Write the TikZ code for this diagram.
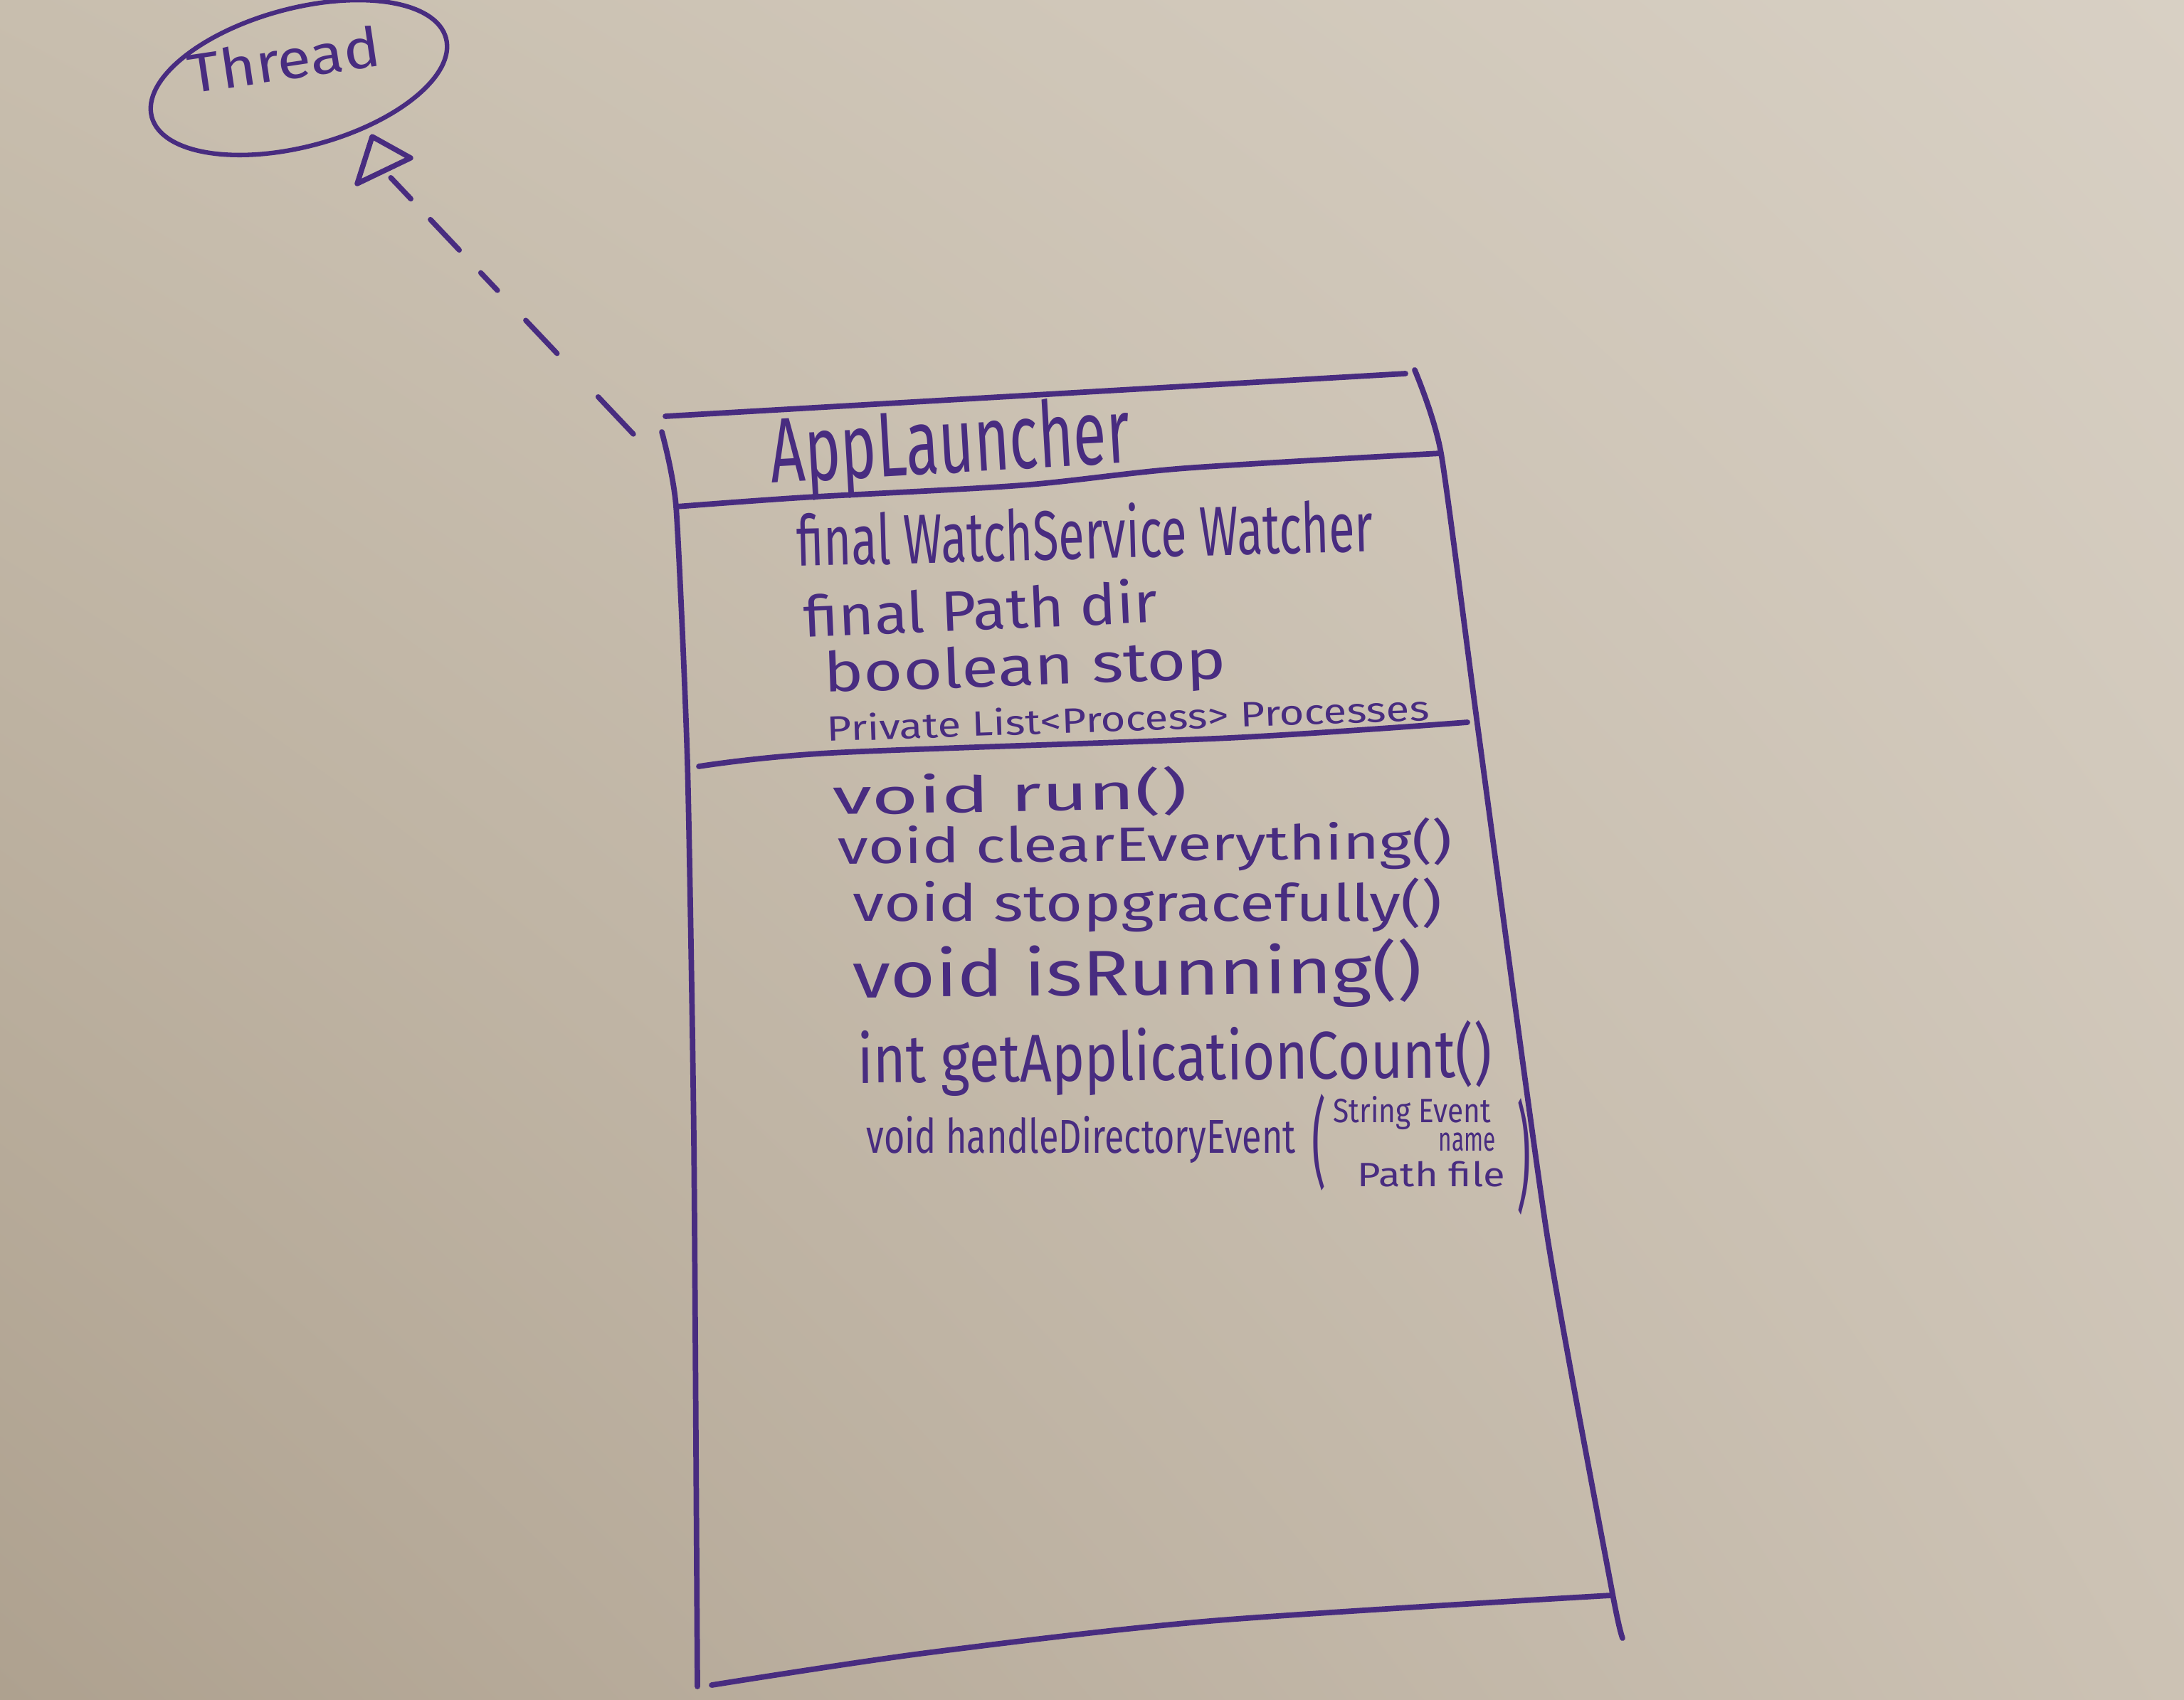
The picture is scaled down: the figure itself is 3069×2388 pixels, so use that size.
\documentclass[tikz,border=0pt]{standalone}
\usepackage{fontspec}
\setmainfont{Fira Sans}
\usepackage{graphicx}
\usetikzlibrary{shadings}

\definecolor{ink}{RGB}{72,44,128}
\definecolor{paperUL}{RGB}{200,190,174}
\definecolor{paperUR}{RGB}{216,208,196}
\definecolor{paperLL}{RGB}{174,161,143}
\definecolor{paperLR}{RGB}{204,194,180}

% pen text: font size, forced width, content
\newcommand{\penfit}[3]{{\fontsize{#1}{#1}\selectfont\resizebox{#2}{\height}{#3}}}

\tikzset{
  pen/.style={draw=ink, line width=2.2pt, line cap=round, line join=round},
  txt/.style={text=ink, inner sep=0pt, anchor=base west},
  realize/.style={draw=ink, line width=2.1pt, line cap=round,
    dash pattern=on 7.2mm off 8.4mm on 6.4mm off 5.8mm on 3.4mm off 4.4mm on 5.9mm off 4mm on 4.1mm off 3mm},
}

\begin{document}
\begin{tikzpicture}[x=0.1mm, y=-0.1mm]
  % paper
  \shade[upper left=paperUL, upper right=paperUR, lower left=paperLL, lower right=paperLR]
    (0,0) rectangle (3069,2388);
  \useasboundingbox (0,0) rectangle (3069,2388);

  % interface Thread
  \node[txt, rotate=8.5] (thread) at (268,132) {\penfit{22pt}{27.2mm}{Thread}};
  \draw[draw=ink, line width=1.8pt, rotate around={15:(420,109)}]
    (420,109) ellipse [x radius=214, y radius=97];

  % realization arrow: hollow triangle and dashed shaft
  \coordinate (ta) at (523,192);
  \coordinate (tb) at (577,222);
  \coordinate (tc) at (502,258);
  \coordinate (tbase) at (540,240);
  \coordinate (realizefrom) at (890,610);
  \draw[pen, line width=2.1pt] (ta) -- (tb) -- (tc) -- cycle;
  \draw[realize] (realizefrom) -- (tbase);

  % class box outline
  \draw[pen] (935,585) -- (1975,525);
  \draw[pen] plot[smooth, tension=0.35] coordinates {(1988,520) (2025,637) (2079,1040) (2174,1736) (2266,2240) (2280,2302)};
  \draw[pen] plot[smooth, tension=0.35] coordinates {(930,607) (950,712) (966,1072) (975,1600) (980,2370)};
  \draw[pen] plot[smooth] coordinates {(1000,2368) (1300,2323) (1700,2278) (2263,2242)};
  % compartments
  \draw[pen] plot[smooth] coordinates {(950,712) (1130,699) (1435,682) (1665,658) (2025,637)};
  \draw[pen] plot[smooth] coordinates {(982,1077) (1169,1058) (1727,1037) (2062,1015)};

  % class name
  \node[txt, rotate=3.3] (cname) at (1084,679) {\penfit{36.7pt}{50.6mm}{AppLauncher}};

  % attributes
  \node[txt, rotate=1.5] (a1) at (1120,796) {\penfit{28pt}{81mm}{final WatchService Watcher}};
  \node[txt, rotate=2.5] (a2) at (1130,896) {\penfit{22.7pt}{49.7mm}{final Path dir}};
  \node[txt, rotate=2] (a3) at (1158,973) {\penfit{22pt}{56.5mm}{boolean stop}};
  \node[txt, rotate=2] (a4) at (1162,1042) {\penfit{14pt}{84.7mm}{Private List<Process> Processes}};

  % operations
  \node[txt, rotate=1] (m1) at (1170,1145) {\penfit{20pt}{49.8mm}{void run()}};
  \node[txt, rotate=0.5] (m2) at (1177,1214) {\penfit{19.3pt}{86.3mm}{void clearEverything()}};
  \node[txt] (m3) at (1198,1294) {\penfit{20.5pt}{82.8mm}{void stopgracefully()}};
  \node[txt, rotate=0.5] (m4) at (1198,1402) {\penfit{25.7pt}{80mm}{void isRunning()}};
  \node[txt, rotate=0.5] (m5) at (1205,1522) {\penfit{27pt}{89.1mm}{int getApplicationCount()}};
  \node[txt] (m6) at (1217,1620) {\penfit{19pt}{60.3mm}{void handleDirectoryEvent}};

  % parameter list of the last operation
  \node[text=ink, inner sep=0pt, anchor=north west] (lpar) at (1843,1537)
    {\resizebox*{2mm}{13.6mm}{(}};
  \node[txt] (p1) at (1873,1577) {\penfit{13.5pt}{22.1mm}{String Event}};
  \node[txt] (p2) at (2021,1617) {\penfit{13.5pt}{8mm}{name}};
  \node[txt] (p3) at (1907,1667) {\penfit{13.5pt}{20.7mm}{Path file}};
  \node[text=ink, inner sep=0pt, anchor=north west] (rpar) at (2131,1543)
    {\resizebox*{2mm}{16.4mm}{)}};
\end{tikzpicture}
\end{document}
